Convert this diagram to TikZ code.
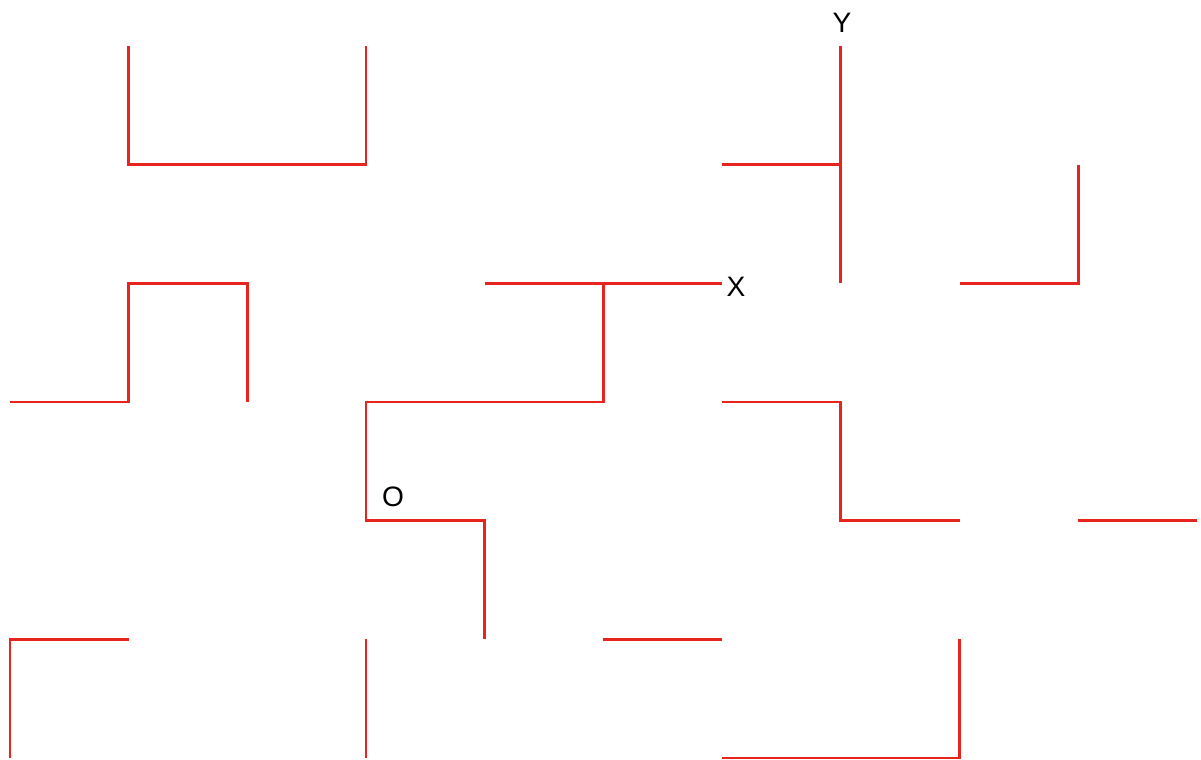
\documentclass[tikz,border=0pt]{standalone}
\usepackage{fontspec}
\setmainfont{Liberation Sans}
\definecolor{wall}{RGB}{232,36,30}
\begin{document}
\begin{tikzpicture}[x=0.02cm,y=-0.02cm,
  wallline/.style={draw=wall,line width=0.055cm,line join=miter},
  lbl/.style={font=\fontsize{16}{18}\selectfont,inner sep=0pt,text=black}]
\useasboundingbox (0,0) rectangle (1201,760);
% grid coordinates
\foreach \i/\x in {0/10,1/128.7,2/247.4,3/366,4/484.7,5/603.4,6/722,7/840.8,8/959.5,9/1078.2,10/1197}{
  \foreach \j/\y in {0/46,1/164.7,2/283.4,3/402,4/520.7,5/639.4,6/758}{
    \coordinate (p\i-\j) at (\x,\y);
  }
}
\draw[wallline] (p1-0) -- (p1-1) -- (p3-1) -- (p3-0);
\draw[wallline] (p7-0) -- (p7-2);
\draw[wallline] (p6-1) -- (p7-1);
\draw[wallline] (p8-2) -- (p9-2) -- (p9-1);
\draw[wallline] (p0-3) -- (p1-3) -- (p1-2) -- (p2-2) -- (p2-3);
\draw[wallline] (p4-2) -- (p6-2);
\draw[wallline] (p5-2) -- (p5-3) -- (p3-3) -- (p3-4) -- (p4-4) -- (p4-5);
\draw[wallline] (p6-3) -- (p7-3) -- (p7-4) -- (p8-4);
\draw[wallline] (p9-4) -- (p10-4);
\draw[wallline] (p0-6) -- (p0-5) -- (p1-5);
\draw[wallline] (p3-5) -- (p3-6);
\draw[wallline] (p5-5) -- (p6-5);
\draw[wallline] (p6-6) -- (p8-6) -- (p8-5);
\node[lbl] (Y) at (842,23) {Y};
\node[lbl] (X) at (736,287) {X};
\node[lbl] (O) at (393,497) {O};
\end{tikzpicture}
\end{document}
